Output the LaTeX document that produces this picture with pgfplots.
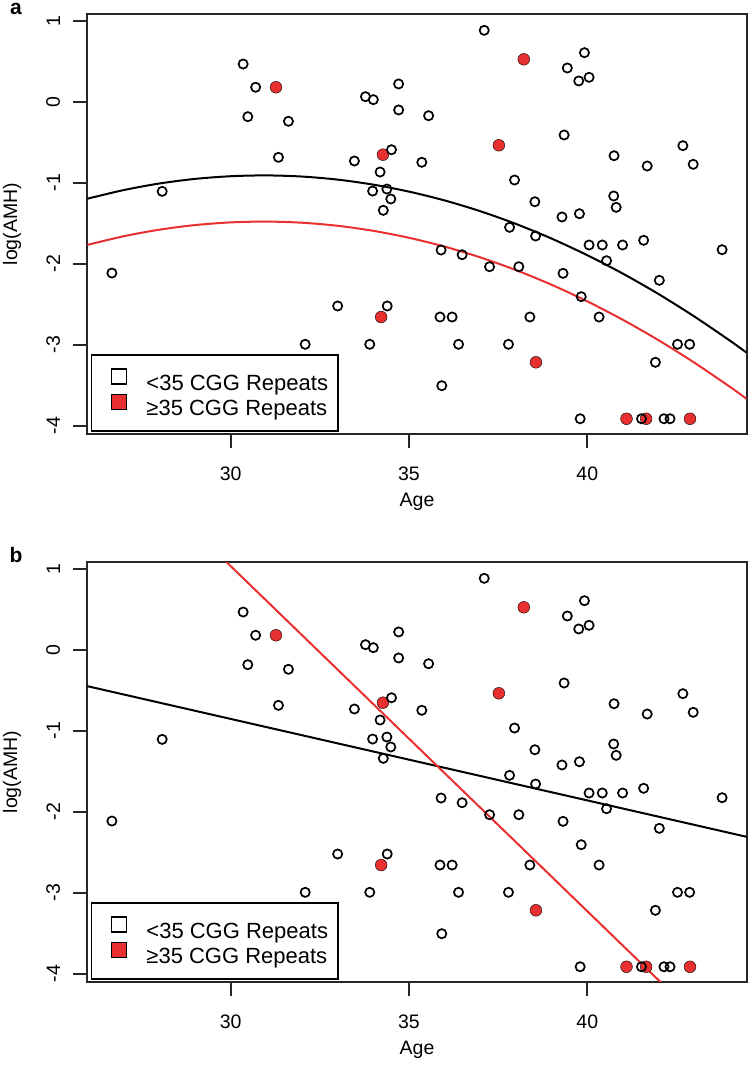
\documentclass[border=0pt]{standalone}
\usepackage{fontspec}
\setmainfont{Liberation Sans}
\usepackage{pgfplots}
\pgfplotsset{compat=1.18}
\usepackage{pgfplotstable}
\definecolor{myred}{RGB}{232,48,48}

\pgfplotstableread{
age v
30.35 0.465
30.70 0.178
30.48 -0.185
31.62 -0.242
31.34 -0.687
28.08 -1.107
33.78 0.062
34.00 0.025
34.71 0.219
34.71 -0.102
34.51 -0.593
33.47 -0.732
34.19 -0.868
33.98 -1.103
34.38 -1.078
34.49 -1.201
34.28 -1.341
37.11 0.881
39.92 0.605
39.44 0.416
39.76 0.256
40.05 0.301
35.55 -0.173
39.35 -0.411
35.36 -0.748
40.75 -0.667
41.68 -0.794
42.68 -0.543
42.97 -0.773
37.96 -0.967
38.53 -1.235
40.74 -1.164
40.81 -1.304
39.29 -1.423
39.78 -1.383
37.82 -1.551
38.55 -1.658
35.90 -1.831
36.49 -1.889
37.26 -2.037
38.08 -2.037
39.32 -2.119
40.05 -1.769
40.42 -1.769
40.99 -1.769
41.58 -1.711
40.54 -1.963
43.78 -1.827
42.02 -2.205
39.83 -2.407
40.33 -2.658
35.87 -2.658
36.21 -2.658
38.39 -2.658
36.39 -2.995
37.79 -2.995
42.53 -2.995
42.87 -2.995
41.91 -3.217
35.92 -3.506
39.80 -3.914
41.52 -3.914
42.15 -3.914
42.32 -3.914
26.67 -2.115
33.00 -2.522
34.39 -2.522
32.09 -2.995
33.90 -2.995
}\lowdata

\pgfplotstableread{
age v
31.27 0.178
34.27 -0.654
38.22 0.523
37.52 -0.538
38.56 -3.217
41.10 -3.914
41.65 -3.914
42.88 -3.914
34.22 -2.658
}\highdata

\pgfplotstableread{
age v
25.98 -1.198
27 -1.091
28 -1.010
29 -0.953
30 -0.920
31 -0.910
32 -0.924
33 -0.962
34 -1.024
35 -1.110
36 -1.219
37 -1.352
38 -1.509
39 -1.690
40 -1.895
41 -2.123
42 -2.375
43 -2.651
44 -2.950
44.47 -3.099
}\fitlowa

\pgfplotstableread{
age v
25.98 -1.768
27 -1.661
28 -1.580
29 -1.523
30 -1.490
31 -1.480
32 -1.494
33 -1.532
34 -1.594
35 -1.680
36 -1.789
37 -1.922
38 -2.079
39 -2.260
40 -2.465
41 -2.693
42 -2.945
43 -3.221
44 -3.520
44.47 -3.669
}\fithigha

\pgfplotsset{
  panel/.style={
    width=659.4pt, height=419.7pt, scale only axis,
    xmin=25.98, xmax=44.47, ymin=-4.102, ymax=1.079,
    xtick={30,35,40}, ytick={-4,-3,-2,-1,0,1},
    tick pos=left, tick align=outside, major tick length=14pt,
    axis line style={line width=2.2pt, black!85},
    every tick/.style={line width=2pt, black!85},
    tick label style={font=\fontsize{19.5}{22}\selectfont},
    /pgf/number format/assume math mode=true,
    yticklabel={\rotatebox{90}{\pgfmathprintnumber{\tick}}},
    yticklabel style={anchor=east, inner sep=0pt, xshift=-13pt},
    xticklabel style={anchor=base, inner sep=0pt, yshift=-33pt},
    every axis x label/.style={at={(axis description cs:0.5,-0.1716)}, anchor=base, font=\fontsize{19.5}{22}\selectfont},
    every axis y label/.style={at={(axis description cs:-0.1142,0.5)}, rotate=90, anchor=center, font=\fontsize{19.5}{22}\selectfont},
    xlabel={Age}, ylabel={log(AMH)},
    legend cell align=left,
    legend style={at={(rel axis cs:0.0056,0.0055)}, anchor=south west,
      draw=black, line width=1.5pt, fill=white,
      font=\fontsize{22}{24}\selectfont,
      inner xsep=10pt, inner ysep=13.5pt, row sep=2pt, column sep=19pt,
      nodes={inner sep=0pt}},
  },
  lowpts/.style={only marks, mark=o, mark size=4.6pt, mark options={line width=1.7pt, black}},
  highpts/.style={only marks, mark=*, mark size=5.9pt, mark options={draw=none, fill=myred}},
}

\begin{document}
\begin{tikzpicture}[x=1pt,y=1pt]
\useasboundingbox (0,0) rectangle (749,1067);

% Panel a
\begin{axis}[panel, at={(87.3pt,633pt)}, anchor=south west]
\addplot[highpts, forget plot] table[x=age,y=v] {\highdata};
\addplot[lowpts, forget plot] table[x=age,y=v] {\lowdata};
\addplot[black, line width=2pt, smooth, forget plot] table[x=age,y=v] {\fitlowa};
\addplot[myred, line width=2pt, smooth, forget plot] table[x=age,y=v] {\fithigha};
\addlegendimage{legend image code/.code={\path (-9.3pt,0pt); \draw[line width=1.3pt, fill=white] (0pt,-0.5pt) rectangle (15pt,14.5pt);}}
\addlegendentry{<35 CGG Repeats}
\addlegendimage{legend image code/.code={\path (-9.3pt,0pt); \draw[line width=1.3pt, fill=myred] (0pt,-0.5pt) rectangle (15pt,14.5pt);}}
\addlegendentry{≥35 CGG Repeats}
\end{axis}

% Panel b
\begin{axis}[panel, at={(87.3pt,85pt)}, anchor=south west]
\addplot[highpts, forget plot] table[x=age,y=v] {\highdata};
\addplot[lowpts, forget plot] table[x=age,y=v] {\lowdata};
\addplot[black, line width=2pt, forget plot] coordinates {(25.98,-0.45) (44.47,-2.31)};
\addplot[myred, line width=2pt, forget plot] coordinates {(29.0,1.458) (43.0,-4.506)};
\addlegendimage{legend image code/.code={\path (-9.3pt,0pt); \draw[line width=1.3pt, fill=white] (0pt,-0.5pt) rectangle (15pt,14.5pt);}}
\addlegendentry{<35 CGG Repeats}
\addlegendimage{legend image code/.code={\path (-9.3pt,0pt); \draw[line width=1.3pt, fill=myred] (0pt,-0.5pt) rectangle (15pt,14.5pt);}}
\addlegendentry{≥35 CGG Repeats}
\end{axis}

\node[anchor=base, font=\fontsize{21}{24}\selectfont\bfseries] at (16,1052) {a};
\node[anchor=base, font=\fontsize{21}{24}\selectfont\bfseries] at (16,504) {b};
\end{tikzpicture}
\end{document}
